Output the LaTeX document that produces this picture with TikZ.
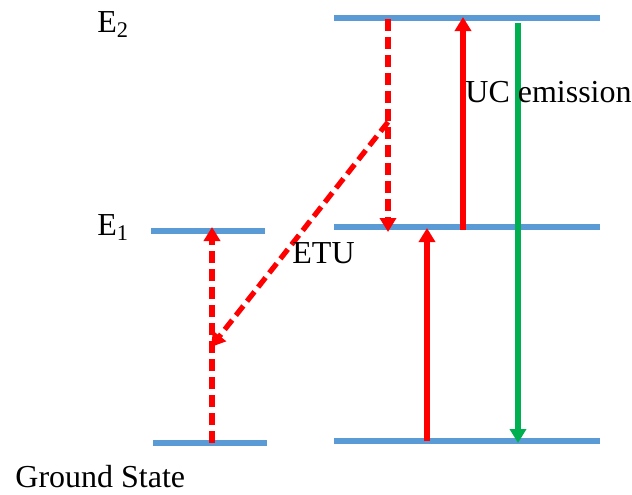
\documentclass[tikz,border=0pt]{standalone}
\usepackage{fontspec}
\setmainfont{Liberation Serif}
\usepackage{xcolor}
\usepackage{tikz}
\usetikzlibrary{arrows.meta}

\definecolor{lvlblue}{RGB}{91,155,213}
\definecolor{emgreen}{RGB}{0,176,80}

\begin{document}
\begin{tikzpicture}[x=0.5pt,y=-0.5pt,>={Triangle[width=8pt,length=7pt]},
	level/.style={draw=lvlblue,line width=2.8pt},
	pump/.style={->,red,line width=2.6pt},
	transfer/.style={->,red,line width=2.6pt,dash pattern=on 6pt off 3pt},
	emit/.style={->,emgreen,line width=2.6pt},
	lbl/.style={inner sep=0pt,anchor=base west,font=\fontsize{16}{18}\selectfont}]
			\useasboundingbox (0,0) rectangle (632,494);
			
			% energy levels
			\draw[level] (151,231)--(265,231);
			\draw[level] (153,443)--(267,443);
			\draw[level] (334,18)--(600,18);
			\draw[level] (334,227)--(600,227);
			\draw[level] (334,441)--(600,441);
			
			\coordinate (G1) at (212,443);
			\coordinate (A1) at (212,227);
			\coordinate (M1) at (211,347);
			\coordinate (T2) at (388,19);
			\coordinate (M2) at (388,122);
			\coordinate (B2) at (388,232);
			\coordinate (U1) at (463,230);
			\coordinate (U2) at (463,17);
			\coordinate (G3) at (427,441);
			\coordinate (A3) at (427,228);
			\coordinate (E3) at (518,23);
			\coordinate (F3) at (518,443);
			
			\draw[transfer] (G1)--(A1);
			\draw[transfer] (T2)--(B2);
			\draw[transfer] (M2)--(M1);
			\draw[pump] (G3)--(A3);
			\draw[pump] (U1)--(U2);
			\draw[emit] (E3)--(F3);
			
			\node[lbl] (e2) at (97,32) {E\textsubscript{2}};
			\node[lbl] (e1) at (97,235) {E\textsubscript{1}};
			\node[lbl] (gs) at (15,487) {Ground State};
			\node[lbl] (etu) at (292,263) {ETU};
			\node[lbl] (uc) at (465,102) {UC emission};
		\end{tikzpicture}
\end{document}
